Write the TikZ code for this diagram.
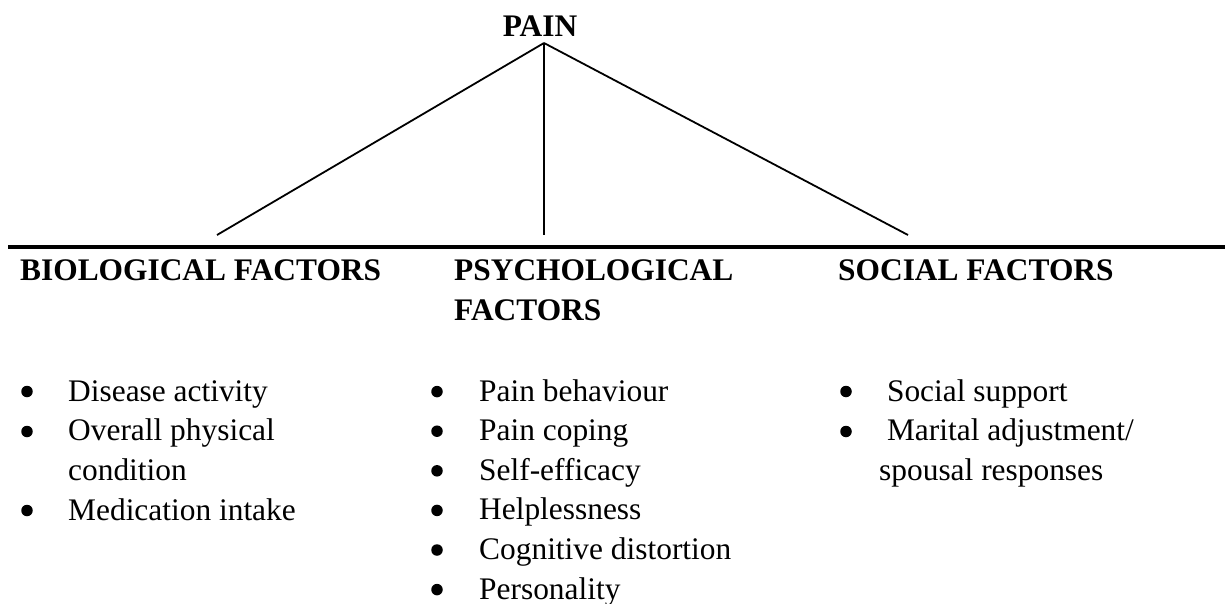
\documentclass[tikz,border=0pt]{standalone}
\usepackage{fontspec}
\setmainfont{Liberation Serif}
\usetikzlibrary{positioning}
\tikzset{
	head/.style={font=\fontsize{31.4}{40}\selectfont\bfseries, inner sep=0pt, anchor=base west, align=left},
	item/.style={font=\fontsize{31.4}{39.5}\selectfont, inner sep=0pt, anchor=base west, align=left},
	dot/.style={circle, fill, inner sep=0pt, minimum size=11.5pt},
}
\begin{document}
\begin{tikzpicture}[x=1pt,y=-1pt]
	\useasboundingbox (0,0) rectangle (1225,604);
	\node[head, anchor=base] (pain) at (540,37) {PAIN};
	\coordinate (top) at (544,43);
	\coordinate (bio) at (217,235);
	\coordinate (psy) at (544,235);
	\coordinate (soc) at (908,235);
	\foreach \c in {bio,psy,soc} {\draw[line width=1.8pt] (top) -- (\c);}
	\coordinate (rl) at (8,247);
	\coordinate (rr) at (1225,247);
	\draw[line width=4pt] (rl) -- (rr);
	% factor headings
	\node[head] (biohead) at (20,280) {BIOLOGICAL FACTORS};
	\node[head] (psyhead) at (454,320) {PSYCHOLOGICAL\\FACTORS};
	\node[head] (sochead) at (838,280) {SOCIAL FACTORS};
	% biological
	\foreach \t/\y/\z [count=\i] in {Disease activity/401/401, {Overall physical\\condition}/480/441, Medication intake/520/520}
		{\node[dot] (bd\i) at (27,\z-9.5) {};
		 \node[item] (bt\i) at (68,\y) {\t};}
	% psychological
	\foreach \t [count=\i] in {Pain behaviour, Pain coping, Self-efficacy, Helplessness, Cognitive distortion, Personality}
		{\node[dot] (pd\i) at (437,361.5+39.6*\i-9.5) {};
		 \node[item] (pt\i) at (479,361.5+39.6*\i) {\t};}
	% social
	\node[dot] (sd1) at (846,401-9.5) {};
	\node[item] (st1) at (879,401) {\ Social support};
	\node[dot] (sd2) at (846,441-9.5) {};
	\node[item] (st2) at (879,480) {\ Marital adjustment/\\spousal responses};
\end{tikzpicture}
\end{document}
